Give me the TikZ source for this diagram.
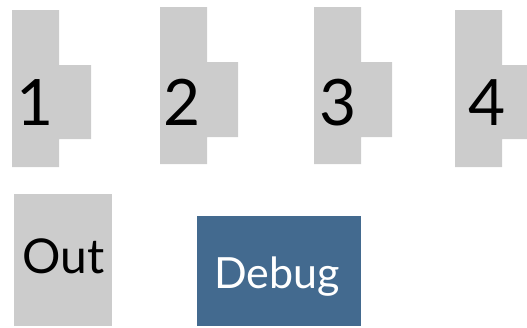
\documentclass[tikz,border=0pt]{standalone}
\usepackage{fontspec}
\setmainfont{Lato}
\definecolor{boxgray}{HTML}{CCCCCC}
\definecolor{debugblue}{HTML}{436A8F}
\tikzset{
  block/.style={fill=boxgray},
  digit/.style={anchor=base, inner sep=0pt, text=black, font=\fontsize{64}{64}\selectfont},
  outlabel/.style={anchor=base, inner sep=0pt, text=black, font=\fontsize{48}{48}\selectfont},
  debuglabel/.style={anchor=base, inner sep=0pt, text=white, font=\fontsize{43}{43}\selectfont}
}
\begin{document}
\begin{tikzpicture}[x=1pt,y=-1pt]
\useasboundingbox (0,0) rectangle (527,327);
% stepped blocks: tall column with a tab on the right
\fill[block] (12,10) -- (59,10) -- (59,65) -- (91,65) -- (91,139) -- (59,139) -- (59,167) -- (12,167) -- cycle;
\fill[block] (160,7) -- (207,7) -- (207,62) -- (238,62) -- (238,137) -- (207,137) -- (207,164) -- (160,164) -- cycle;
\fill[block] (314,7) -- (361,7) -- (361,62) -- (392,62) -- (392,137) -- (361,137) -- (361,164) -- (314,164) -- cycle;
\fill[block] (455,10) -- (502,10) -- (502,65) -- (527,65) -- (527,139) -- (502,139) -- (502,167) -- (455,167) -- cycle;
\node[digit] (one) at (35,125) {1};
\node[digit] (two) at (182.5,125) {2};
\node[digit] (three) at (338,125) {3};
\node[digit] (four) at (487,125) {4};
% output and debug boxes
\fill[block] (14,194) rectangle (112,326);
\node[outlabel] (out) at (63.5,273) {Out};
\fill[debugblue] (197,216) rectangle (361,326);
\node[debuglabel] (debug) at (277,288) {Debug};
\end{tikzpicture}
\end{document}
